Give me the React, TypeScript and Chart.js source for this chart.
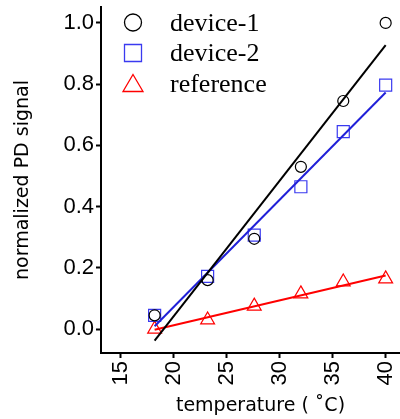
import React, { useEffect, useRef } from 'react';
import { Chart, registerables } from 'chart.js';

Chart.register(...registerables);

// ---- data ----
const temperature = [18.2, 23.2, 27.6, 32.0, 36.0, 40.0];
const device1 = [0.045, 0.16, 0.295, 0.53, 0.745, 1.0];
const device2 = [0.045, 0.172, 0.307, 0.465, 0.645, 0.797];
const reference = [0.0, 0.03, 0.075, 0.115, 0.154, 0.164];
const seriesNames = ['device-1', 'device-2', 'reference'];
const seriesColors = ['#000000', '#2020d8', '#ff0000'];
const markerColors = ['#000000', '#3a3af0', '#ff0000'];
const markerStyles = ['circle', 'rect', 'triangle'];
const markerRadii = [5.5, 8.5, 8];
const xTickValues = [15, 20, 25, 30, 35, 40];
const yTickValues = [0.0, 0.2, 0.4, 0.6, 0.8, 1.0];

function linearFit(xs: number[], ys: number[]) {
  const n = xs.length;
  const mx = xs.reduce((a, b) => a + b, 0) / n;
  const my = ys.reduce((a, b) => a + b, 0) / n;
  let sxy = 0;
  let sxx = 0;
  for (let i = 0; i < n; i++) {
    sxy += (xs[i] - mx) * (ys[i] - my);
    sxx += (xs[i] - mx) * (xs[i] - mx);
  }
  const slope = sxy / sxx;
  const x0 = Math.min(...xs);
  const x1 = Math.max(...xs);
  return [
    { x: x0, y: my + slope * (x0 - mx) },
    { x: x1, y: my + slope * (x1 - mx) },
  ];
}

const legendPlugin = {
  id: 'insideLegend',
  afterDraw(chart: any) {
    const ctx = chart.ctx;
    ctx.save();
    const cx = 133;
    for (let i = 0; i < seriesNames.length; i++) {
      const cy = 22.5 + i * 30.5;
      ctx.strokeStyle = markerColors[i];
      ctx.lineWidth = 1.3;
      ctx.beginPath();
      if (markerStyles[i] === 'circle') {
        ctx.arc(cx, cy, 8.5, 0, Math.PI * 2);
      } else if (markerStyles[i] === 'rect') {
        ctx.rect(cx - 8.5, cy - 8.5, 17, 17);
      } else {
        ctx.moveTo(cx, cy - 9);
        ctx.lineTo(cx + 10, cy + 8);
        ctx.lineTo(cx - 10, cy + 8);
        ctx.closePath();
      }
      ctx.stroke();
      ctx.fillStyle = '#000';
      ctx.font = '26px "Liberation Serif"';
      ctx.textBaseline = 'alphabetic';
      ctx.textAlign = 'left';
      ctx.fillText(seriesNames[i], 170, cy + 8);
    }
    ctx.restore();
  },
};

export default function App() {
  const canvasRef = useRef<HTMLCanvasElement | null>(null);

  useEffect(() => {
    if (!canvasRef.current) return;
    const seriesValues = [device1, device2, reference];

    const fitSets = seriesValues.map((ys, i) => ({
      type: 'line' as const,
      label: seriesNames[i] + ' fit',
      data: linearFit(temperature, ys),
      borderColor: seriesColors[i],
      borderWidth: 2,
      pointRadius: 0,
      fill: false,
      showLine: true,
    }));

    const pointSets = seriesValues.map((ys, i) => ({
      type: 'scatter' as const,
      label: seriesNames[i],
      data: temperature.map((t, k) => ({ x: t, y: ys[k] })),
      pointStyle: markerStyles[i],
      pointRadius: markerRadii[i],
      pointBorderWidth: 1.2,
      borderColor: markerColors[i],
      backgroundColor: 'rgba(0,0,0,0)',
      showLine: false,
    }));

    const chart = new Chart(canvasRef.current, {
      type: 'scatter',
      data: { datasets: [...fitSets, ...pointSets] as any },
      plugins: [legendPlugin],
      options: {
        animation: false,
        responsive: false,
        layout: { autoPadding: false, padding: { top: 7, right: 0, left: 0, bottom: 0 } },
        plugins: {
          legend: { display: false },
          tooltip: { enabled: false },
        },
        scales: {
          x: {
            type: 'linear',
            min: 13.14,
            max: 43.24,
            afterFit: (s: any) => {
              s.height = 66;
              s.paddingLeft = 0;
              s.paddingRight = 0;
            },
            afterBuildTicks: (s: any) => {
              s.ticks = xTickValues.map((v) => ({ value: v }));
            },
            grid: {
              display: true,
              drawOnChartArea: false,
              drawTicks: true,
              tickLength: 5,
              tickWidth: 2,
              tickColor: '#000',
            },
            border: { display: true, color: '#000', width: 2 },
            ticks: {
              autoSkip: false,
              minRotation: 90,
              maxRotation: 90,
              padding: 3,
              color: '#000',
              font: { family: '"Liberation Sans"', size: 22 },
              callback: (v: any) => String(v),
            },
            title: {
              display: true,
              text: 'temperature ( ˚C)',
              color: '#000',
              font: { family: '"DejaVu Sans"', size: 19 },
              padding: { top: 0, bottom: 2 },
            },
          },
          y: {
            type: 'linear',
            min: -0.078,
            max: 1.052,
            afterFit: (s: any) => {
              s.width = 101;
              s.paddingTop = 0;
              s.paddingBottom = 0;
            },
            afterBuildTicks: (s: any) => {
              s.ticks = yTickValues.map((v) => ({ value: v }));
            },
            grid: {
              display: true,
              drawOnChartArea: false,
              drawTicks: true,
              tickLength: 5,
              tickWidth: 2,
              tickColor: '#000',
            },
            border: { display: true, color: '#000', width: 2 },
            ticks: {
              padding: 2,
              color: '#000',
              font: { family: '"Liberation Sans"', size: 22 },
              callback: (v: any) => Number(v).toFixed(1),
            },
            title: {
              display: true,
              text: 'normalized PD signal',
              color: '#000',
              font: { family: '"DejaVu Sans"', size: 19 },
              padding: { top: 12, bottom: 0 },
            },
          },
        },
      } as any,
    });

    return () => {
      chart.destroy();
    };
  }, []);

  return (
    <div
      style={{
        position: 'absolute',
        left: 0,
        top: 0,
        width: 400,
        height: 419,
        overflow: 'hidden',
        background: '#fff',
      }}
    >
      <canvas ref={canvasRef} width={420} height={419} style={{ width: 420, height: 419, display: 'block' }} />
    </div>
  );
}
